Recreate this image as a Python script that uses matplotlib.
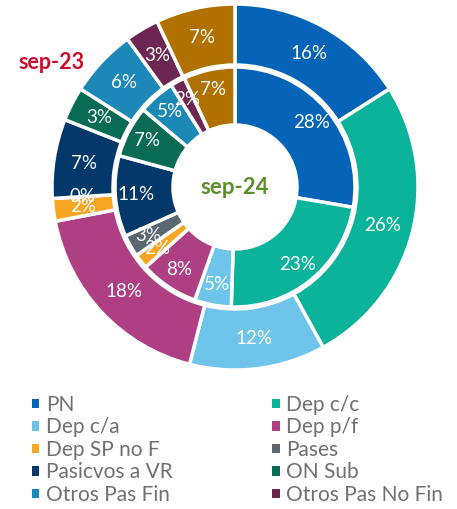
import matplotlib.pyplot as plt
from matplotlib.patches import Patch

plt.rcParams['font.family'] = ['Lato', 'DejaVu Sans']

categorias = ['PN', 'Dep c/c', 'Dep c/a', 'Dep p/f', 'Dep SP no F', 'Pases',
              'Pasicvos a VR', 'ON Sub', 'Otros Pas Fin', 'Otros Pas No Fin', 'Otros']
sep23 = [16, 26, 12, 18, 2, 0, 7, 3, 6, 3, 7]
sep24 = [28, 23, 5, 8, 2, 3, 11, 7, 5, 2, 7]
colores = ['#0563b8', '#0bb39a', '#6ec4ea', '#ad3f82', '#f7a623', '#5b6770',
           '#04376a', '#096b56', '#1c88b8', '#6b2652', '#b07100']

fig = plt.figure(figsize=(4.57, 5.09), dpi=100)
ax = fig.add_axes([0, 0, 1, 1])

cx, cy = 235, 509 - 187


def etiquetas(vals):
    it = iter(vals)
    return lambda p: f'{next(it)}%'


wp = dict(edgecolor='white', linewidth=2.5)
txt = dict(color='white', fontsize=13.5)

ax.pie(sep23, colors=colores, radius=183, center=(cx, cy), startangle=90,
       counterclock=False, autopct=etiquetas(sep23), pctdistance=0.835,
       wedgeprops=dict(width=61, **wp), textprops=txt, frame=True)
ax.pie(sep24, colors=colores, radius=120, center=(cx, cy), startangle=90,
       counterclock=False, autopct=etiquetas(sep24), pctdistance=0.83,
       wedgeprops=dict(width=58, **wp), textprops=txt, frame=True)
ax.set_xlim(0, 457)
ax.set_ylim(0, 509)
ax.set_aspect('equal')
ax.axis('off')

ax.text(cx, cy, 'sep-24', color='#5b8f2a', fontsize=16, fontweight='bold',
        ha='center', va='center')
ax.text(52, 509 - 62, 'sep-23', color='#c8102e', fontsize=15.5, fontweight='bold',
        ha='center', va='center')

orden = [0, 2, 4, 6, 8, 1, 3, 5, 7, 9]
handles = [Patch(facecolor=colores[i], label=categorias[i]) for i in orden]
ax.legend(handles=handles, ncol=2, loc='upper left', bbox_to_anchor=(0.07, 0.224),
          frameon=False, fontsize=15, handlelength=0.34, handleheight=0.34,
          handletextpad=0.32, labelspacing=0.12, columnspacing=4.8,
          labelcolor='#707070', borderpad=0, borderaxespad=0)

fig.savefig('out.png', dpi=100, facecolor='white')
